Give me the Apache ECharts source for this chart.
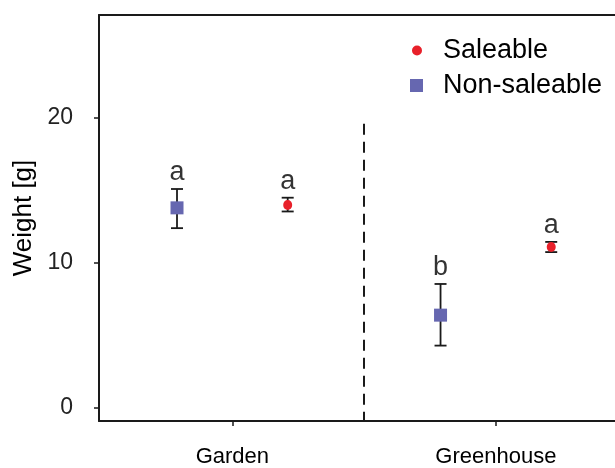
<!DOCTYPE html>
<html>
<head>
<meta charset="utf-8">
<script src="https://cdn.jsdelivr.net/npm/echarts@6/dist/echarts.min.js"></script>
<style>
  html, body { margin: 0; padding: 0; background: #fff; }
  #chart { width: 615px; height: 468px; }
</style>
</head>
<body>
<div id="chart"></div>
<script>
// data
const groups = ['Garden', 'Greenhouse'];
const groupPos = [1, 2];
const saleableMean = [14.0, 11.1];
const saleableLow = [13.55, 10.75];
const saleableHigh = [14.5, 11.45];
const nonSaleableMean = [13.8, 6.4];
const nonSaleableLow = [12.4, 4.3];
const nonSaleableHigh = [15.1, 8.55];
const saleableLetters = ['a', 'a'];
const nonSaleableLetters = ['a', 'b'];
const yTicks = [0, 10, 20];

const dodge = 0.21;
const font = "'Liberation Sans', Arial, sans-serif";
const ink = '#1a1a1a';

let myChart = echarts.init(document.getElementById('chart'));

// build series data from the arrays above
const saleablePts = groupPos.map((g, i) => [g + dodge, saleableMean[i]]);
const nonSaleablePts = groupPos.map((g, i) => [g - dodge, nonSaleableMean[i]]);
const errData = [];
const letterData = [];
groupPos.forEach((g, i) => {
  errData.push([g - dodge, nonSaleableLow[i], nonSaleableHigh[i]]);
  errData.push([g + dodge, saleableLow[i], saleableHigh[i]]);
  letterData.push([g - dodge, nonSaleableHigh[i], nonSaleableLetters[i]]);
  letterData.push([g + dodge, saleableHigh[i], saleableLetters[i]]);
});

function renderErr(params, api) {
  const x = api.value(0);
  const lo = api.coord([x, api.value(1)]);
  const hi = api.coord([x, api.value(2)]);
  const w = 6;
  const style = { stroke: ink, lineWidth: 1.8 };
  return {
    type: 'group',
    children: [
      { type: 'line', shape: { x1: lo[0], y1: lo[1], x2: hi[0], y2: hi[1] }, style: style },
      { type: 'line', shape: { x1: lo[0] - w, y1: lo[1], x2: lo[0] + w, y2: lo[1] }, style: style },
      { type: 'line', shape: { x1: hi[0] - w, y1: hi[1], x2: hi[0] + w, y2: hi[1] }, style: style }
    ]
  };
}

let option = {
  animation: false,
  backgroundColor: '#fff',
  textStyle: { fontFamily: font },
  grid: { left: 99, right: 0, top: 15, bottom: 46 },
  legend: [{
    data: ['Saleable'],
    icon: 'circle',
    left: 412, top: 37, padding: 0,
    itemWidth: 10, itemHeight: 10,
    textStyle: { fontSize: 27, color: '#000', fontFamily: font, padding: [6, 0, 0, 16] }
  }, {
    data: ['Non-saleable'],
    icon: 'rect',
    left: 410, top: 72, padding: 0,
    itemWidth: 13, itemHeight: 13,
    textStyle: { fontSize: 27, color: '#000', fontFamily: font, padding: [6, 0, 0, 15] }
  }],
  xAxis: [{
    type: 'value',
    min: 0.494, max: 2.452,
    splitLine: { show: false },
    axisLine: { show: true, onZero: false, lineStyle: { color: ink, width: 2 } },
    axisTick: { show: true, length: 5, customValues: groupPos, lineStyle: { color: ink, width: 1.5 } },
    axisLabel: {
      customValues: groupPos,
      margin: 25,
      fontSize: 22, color: '#000', fontFamily: font,
      formatter: v => groups[groupPos.indexOf(v)] || ''
    }
  }, {
    type: 'value',
    position: 'top',
    min: 0.494, max: 2.452,
    splitLine: { show: false },
    axisLine: { show: true, onZero: false, lineStyle: { color: ink, width: 2 } },
    axisTick: { show: false },
    axisLabel: { show: false }
  }],
  yAxis: {
    type: 'value',
    min: -0.9, max: 27.1,
    name: 'Weight [g]',
    nameLocation: 'middle',
    nameRotate: 90,
    nameGap: 58,
    nameTextStyle: { fontSize: 26, color: '#000', fontFamily: font },
    splitLine: { show: false },
    axisLine: { show: true, onZero: false, lineStyle: { color: ink, width: 2 } },
    axisTick: { show: true, length: 5, customValues: yTicks, lineStyle: { color: ink, width: 1.5 } },
    axisLabel: { customValues: yTicks, margin: 26, fontSize: 23, color: '#222', fontFamily: font }
  },
  series: [{
    name: 'errors',
    type: 'custom',
    renderItem: renderErr,
    encode: { x: 0, y: [1, 2] },
    data: errData,
    z: 1,
    silent: true
  }, {
    name: 'Non-saleable',
    type: 'scatter',
    symbol: 'rect',
    symbolSize: 13,
    itemStyle: { color: '#6667b0', opacity: 1 },
    data: nonSaleablePts,
    z: 3,
    markLine: {
      silent: true,
      symbol: 'none',
      label: { show: false },
      lineStyle: { color: ink, width: 2, type: [11, 7] },
      data: [[{ coord: [1.5, 19.6] }, { coord: [1.5, -0.9] }]]
    }
  }, {
    name: 'Saleable',
    type: 'scatter',
    symbol: 'circle',
    symbolSize: [9, 10],
    itemStyle: { color: '#e8202a', opacity: 1 },
    data: saleablePts,
    z: 3
  }, {
    name: 'letters',
    type: 'scatter',
    symbolSize: 0,
    silent: true,
    data: letterData,
    label: {
      show: true,
      position: 'top',
      distance: 3,
      fontSize: 27,
      color: '#000',
      fontFamily: font,
      formatter: p => p.value[2]
    }
  }]
};
myChart.setOption(option);
</script>
</body>
</html>
